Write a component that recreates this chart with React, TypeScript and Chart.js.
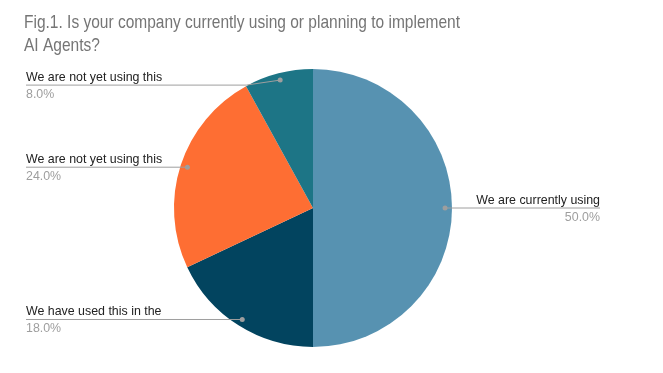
import { useEffect, useRef } from "react";
import { Chart, registerables } from "chart.js";

Chart.register(...registerables);

const titleLines = ["Fig.1. Is your company currently using or planning to implement", "AI Agents?"];
const categories = [
  "We are currently using",
  "We have used this in the",
  "We are not yet using this",
  "We are not yet using this",
];
const values = [50, 18, 24, 8];
const colors = ["#5792b1", "#02445f", "#fe6e33", "#1d7586"];

const labelPlugin = {
  id: "pieLabels",
  afterDraw(chart: any) {
    const ctx = chart.ctx as CanvasRenderingContext2D;
    ctx.save();
    // title
    ctx.fillStyle = "#757575";
    ctx.font = "19px 'Liberation Sans Narrow', 'Arial Narrow', sans-serif";
    ctx.textAlign = "left";
    ctx.textBaseline = "alphabetic";
    const w = ctx.measureText(titleLines[0]).width;
    const target = 436;
    ctx.save();
    ctx.translate(24, 0);
    if (Math.abs(w - target) > 15) ctx.scale(target / w, 1);
    ctx.fillText(titleLines[0], 0, 28);
    ctx.fillText(titleLines[1], 0, 51);
    ctx.restore();

    const meta = chart.getDatasetMeta(0);
    const total = values.reduce((a, b) => a + b, 0);
    meta.data.forEach((arc: any, i: number) => {
      const { x, y, startAngle, endAngle, outerRadius } = arc.getProps(
        ["x", "y", "startAngle", "endAngle", "outerRadius"],
        true
      );
      const mid = (startAngle + endAngle) / 2;
      const r = outerRadius * 0.95;
      const dx = x + Math.cos(mid) * r;
      const dy = y + Math.sin(mid) * r;
      const right = Math.cos(mid) > 0;
      const pct = ((values[i] / total) * 100).toFixed(1) + "%";
      let lineY = dy;
      if (i === 3) lineY = dy + 5;
      ctx.strokeStyle = "#9e9e9e";
      ctx.lineWidth = 1;
      ctx.beginPath();
      if (right) {
        ctx.moveTo(dx, dy);
        ctx.lineTo(600, lineY);
      } else {
        ctx.moveTo(26, lineY);
        if (i === 3) {
          ctx.lineTo(dx - 34, lineY);
        }
        ctx.lineTo(dx, dy);
      }
      ctx.stroke();
      ctx.fillStyle = "#9e9e9e";
      ctx.beginPath();
      ctx.arc(dx, dy, 2.5, 0, Math.PI * 2);
      ctx.fill();

      ctx.font = "12.4px 'Liberation Sans', Arial, sans-serif";
      ctx.textAlign = right ? "right" : "left";
      const tx = right ? 600 : 26;
      ctx.fillStyle = "#222222";
      ctx.fillText(categories[i], tx, lineY - 4);
      ctx.fillStyle = "#9e9e9e";
      ctx.fillText(pct, tx, lineY + 13);
    });
    ctx.restore();
  },
};

export default function App() {
  const ref = useRef<HTMLCanvasElement>(null);
  useEffect(() => {
    const chart = new Chart(ref.current!, {
      type: "pie",
      data: {
        labels: categories,
        datasets: [
          {
            data: values,
            backgroundColor: colors,
            borderWidth: 0,
          },
        ],
      },
      options: {
        animation: false,
        responsive: false,
        layout: { padding: { top: 69, bottom: 26, left: 174, right: 211 } },
        plugins: {
          legend: { display: false },
          tooltip: { enabled: false },
          title: { display: false },
        },
      },
      plugins: [labelPlugin],
    });
    return () => chart.destroy();
  }, []);
  return (
    <div style={{ position: "fixed", left: 0, top: 0, width: 663, height: 373, background: "#fff" }}>
      <canvas ref={ref} width={663} height={373} style={{ width: 663, height: 373 }} />
    </div>
  );
}
